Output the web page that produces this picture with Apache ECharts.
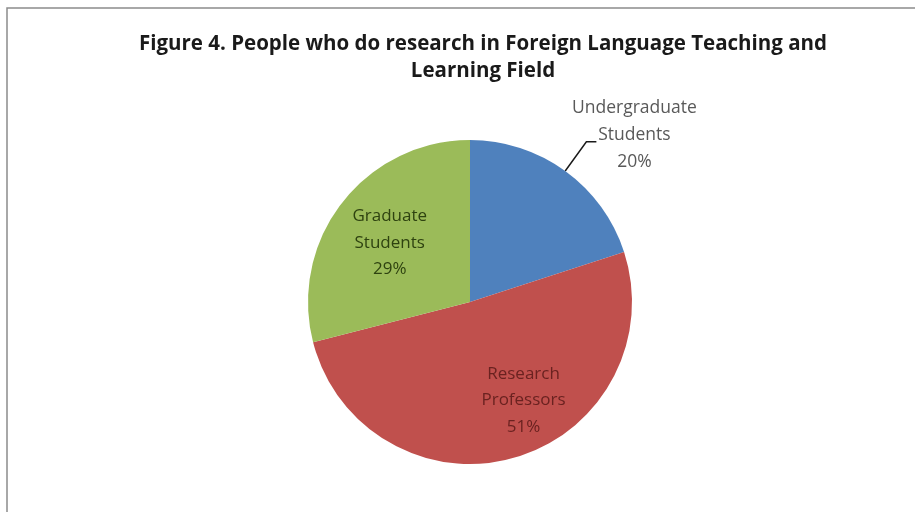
<!DOCTYPE html>
<html>
<head>
<meta charset="utf-8">
<script src="https://cdn.jsdelivr.net/npm/echarts@6/dist/echarts.min.js"></script>
<style>
  html, body { margin: 0; padding: 0; background: #ffffff; }
  #chart { width: 915px; height: 512px; }
</style>
</head>
<body>
<div id="chart"></div>
<script>
// Who does research in the field, share of respondents (%)
const categories = ['Undergraduate Students', 'Research Professors', 'Graduate Students'];
const labelLines = [['Undergraduate', 'Students'], ['Research', 'Professors'], ['Graduate', 'Students']];
const shares = [20, 51, 29];
const sliceColors = ['#4F81BD', '#C0504D', '#9BBB59'];
const insideTextColors = ['#595959', '#6a2220', '#2e4210'];

const chart = echarts.init(document.getElementById('chart'), null, { renderer: 'canvas' });

const labelText = (i) => labelLines[i].join('\n') + '\n' + shares[i] + '%';
const richText = (i) => labelText(i).split('\n').map((s) => '{c|' + s + '}').join('\n');

const pieData = categories.map((name, i) => ({
  name,
  value: shares[i],
  itemStyle: { color: sliceColors[i] },
  label: { show: i === 0 },
  labelLine: { show: i === 0 }
}));

// transparent overlay ring that carries the in-slice labels further out from the centre
const labelRingData = categories.map((name, i) => ({
  name,
  value: shares[i],
  itemStyle: { color: 'rgba(0,0,0,0)' },
  label: { show: i !== 0, color: insideTextColors[i] }
}));

// small nudges for the in-slice label blocks
const labelNudge = [[0, 0], [22, -10], [9, 10]];

chart.setOption({
  animation: false,
  backgroundColor: '#ffffff',
  graphic: [{
    type: 'rect',
    shape: { x: 7, y: 8, width: 1000, height: 600 },
    style: { fill: 'none', stroke: '#8c8c8c', lineWidth: 1.5 },
    silent: true
  }],
  title: {
    text: 'Figure 4. People who do research in Foreign Language Teaching and\nLearning Field',
    left: 478,
    top: 26,
    textAlign: 'center',
    textStyle: {
      fontFamily: 'Open Sans',
      fontWeight: 'bold',
      fontSize: 20.5,
      lineHeight: 27,
      color: '#1a1a1a'
    }
  },
  series: [
    {
      type: 'pie',
      center: [470, 302],
      radius: 162,
      startAngle: 90,
      clockwise: true,
      silent: true,
      data: pieData,
      label: {
        position: 'outside',
        formatter: (p) => richText(p.dataIndex),
        distanceToLabelLine: -25,
        padding: [0, 0, 14, 0],
        rich: {
          c: {
            width: 126,
            align: 'center',
            fontFamily: 'Open Sans',
            fontSize: 17.5,
            lineHeight: 27,
            color: '#595959'
          }
        }
      },
      labelLine: {
        length: 36,
        length2: 10,
        lineStyle: { color: '#1a1a1a', width: 1.5 }
      }
    },
    {
      type: 'pie',
      center: [470, 302],
      radius: [58, 162],
      startAngle: 90,
      clockwise: true,
      silent: true,
      data: labelRingData,
      label: {
        position: 'inside',
        formatter: (p) => labelText(p.dataIndex),
        fontFamily: 'Open Sans',
        fontSize: 17,
        lineHeight: 26.5,
        align: 'center'
      },
      labelLine: { show: false },
      labelLayout: (p) => ({ dx: labelNudge[p.dataIndex][0], dy: labelNudge[p.dataIndex][1] })
    }
  ]
});
</script>
</body>
</html>
